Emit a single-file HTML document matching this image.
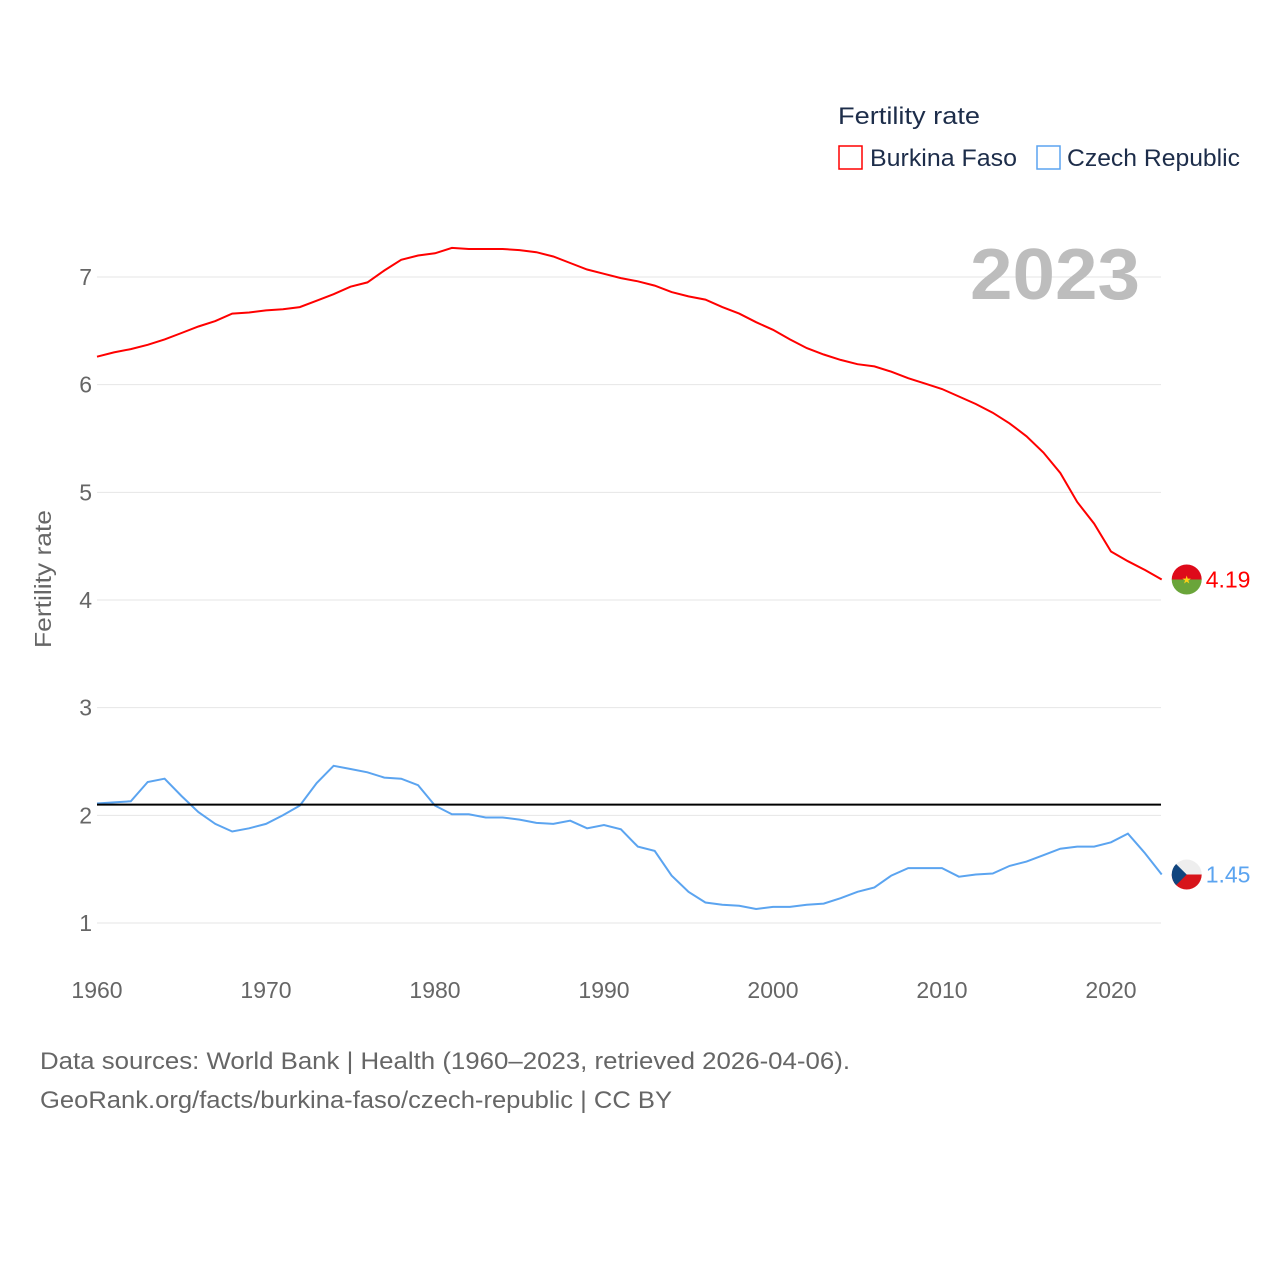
<!DOCTYPE html>
<html><head><meta charset="utf-8"><style>
body{margin:0;background:#fff;font-family:"Liberation Sans",sans-serif}
svg text{font-family:"Liberation Sans",sans-serif}
</style></head><body>
<svg width="1280" height="1280" viewBox="0 0 1280 1280">
<g id="grid"></g>
<text x="838" y="124" font-size="24" fill="#1d2d4a" textLength="142" lengthAdjust="spacingAndGlyphs">Fertility rate</text>
<rect x="839" y="146" width="23" height="23" fill="none" stroke="#f00" stroke-width="1.5"/>
<text x="870" y="166" font-size="24" fill="#1d2d4a" textLength="147" lengthAdjust="spacingAndGlyphs">Burkina Faso</text>
<rect x="1037" y="146" width="23" height="23" fill="none" stroke="#5ba4f0" stroke-width="1.5"/>
<text x="1067" y="166" font-size="24" fill="#1d2d4a" textLength="173" lengthAdjust="spacingAndGlyphs">Czech Republic</text>
<text x="970" y="299" font-size="72" font-weight="bold" fill="#bdbdbd" textLength="170" lengthAdjust="spacingAndGlyphs">2023</text>
<text transform="translate(51,579) rotate(-90)" font-size="23" fill="#666" text-anchor="middle" textLength="138" lengthAdjust="spacingAndGlyphs">Fertility rate</text>
<g id="marks"></g>
<text x="40" y="1069" font-size="24" fill="#666" textLength="810" lengthAdjust="spacingAndGlyphs">Data sources: World Bank | Health (1960–2023, retrieved 2026-04-06).</text>
<text x="40" y="1108" font-size="24" fill="#666" textLength="632" lengthAdjust="spacingAndGlyphs">GeoRank.org/facts/burkina-faso/czech-republic | CC BY</text>
</svg>
<script>
const years=[];for(let y=1960;y<=2023;y++)years.push(y);
const burkina=[6.26,6.30,6.33,6.37,6.42,6.48,6.54,6.59,6.66,6.67,6.69,6.70,6.72,6.78,6.84,6.91,6.95,7.06,7.16,7.20,7.22,7.27,7.26,7.26,7.26,7.25,7.23,7.19,7.13,7.07,7.03,6.99,6.96,6.92,6.86,6.82,6.79,6.72,6.66,6.58,6.51,6.42,6.34,6.28,6.23,6.19,6.17,6.12,6.06,6.01,5.96,5.89,5.82,5.74,5.64,5.52,5.37,5.18,4.91,4.71,4.45,4.36,4.28,4.19];
const czech=[2.11,2.12,2.13,2.31,2.34,2.18,2.03,1.92,1.85,1.88,1.92,2.00,2.09,2.30,2.46,2.43,2.40,2.35,2.34,2.28,2.09,2.01,2.01,1.98,1.98,1.96,1.93,1.92,1.95,1.88,1.91,1.87,1.71,1.67,1.44,1.29,1.19,1.17,1.16,1.13,1.15,1.15,1.17,1.18,1.23,1.29,1.33,1.44,1.51,1.51,1.51,1.43,1.45,1.46,1.53,1.57,1.63,1.69,1.71,1.71,1.75,1.83,1.65,1.45];
const yTicks=[1,2,3,4,5,6,7];
const xTicks=[1960,1970,1980,1990,2000,2010,2020];
const refValue=2.1;
const NS="http://www.w3.org/2000/svg";
const X=y=>97+(y-1960)*1014/60;
const Y=v=>923-(v-1)*646/6;
function mk(t,a,p){const e=document.createElementNS(NS,t);for(const k in a)e.setAttribute(k,a[k]);p.appendChild(e);return e;}
const g=document.getElementById('grid'),m=document.getElementById('marks');
yTicks.forEach(v=>{
 const l=mk('line',{x1:97,x2:1161,y1:Y(v),y2:Y(v),stroke:'#e6e6e6','stroke-width':1},g);
 
 
 const t=mk('text',{x:92,y:Y(v)+8,'font-size':23,fill:'#666','text-anchor':'end'},g);t.textContent=v;
 
 
});
xTicks.forEach(v=>{
 const t=mk('text',{x:X(v),y:998,'font-size':23,fill:'#666','text-anchor':'middle'},g);t.textContent=v;
 
 
});
const pts=a=>a.map((v,i)=>X(years[i]).toFixed(1)+','+Y(v).toFixed(1)).join(' ');
const p1=mk('polyline',{points:pts(burkina),fill:'none',stroke:'#f00','stroke-width':2},m);


const p2=mk('polyline',{points:pts(czech),fill:'none',stroke:'#5ba4f0','stroke-width':2},m);


const rl=mk('line',{x1:97,x2:1161,y1:Y(refValue),y2:Y(refValue),stroke:'#000','stroke-width':2},m);


const lastB=burkina[burkina.length-1],lastC=czech[czech.length-1],lx=X(2023);
let cy=Y(lastB);
const fb=mk('g',{},m);


mk('path',{d:`M${lx+10},${cy} a15,15 0 0 1 30,0 z`,fill:'#de0a1a'},fb);
mk('path',{d:`M${lx+10},${cy} a15,15 0 0 0 30,0 z`,fill:'#6aa53a'},fb);
mk('text',{x:lx+25,y:cy+4,'font-size':11,fill:'#fcd116','text-anchor':'middle'},fb).textContent='★';
const tb=mk('text',{x:lx+44,y:cy+8,'font-size':23,fill:'#f00'},m);tb.textContent=lastB.toFixed(2);


cy=Y(lastC);
const fc=mk('g',{},m);


mk('path',{d:`M${lx+10},${cy} a15,15 0 0 1 30,0 z`,fill:'#eee'},fc);
mk('path',{d:`M${lx+10},${cy} a15,15 0 0 0 30,0 z`,fill:'#d7141a'},fc);
mk('path',{d:`M${lx+14.4},${cy-10.6} L${lx+25},${cy} L${lx+14.4},${cy+10.6} A15,15 0 0 1 ${lx+14.4},${cy-10.6} z`,fill:'#11457e'},fc);
const tc=mk('text',{x:lx+44,y:cy+8,'font-size':23,fill:'#5ba4f0'},m);tc.textContent=lastC.toFixed(2);


</script>
</body></html>
